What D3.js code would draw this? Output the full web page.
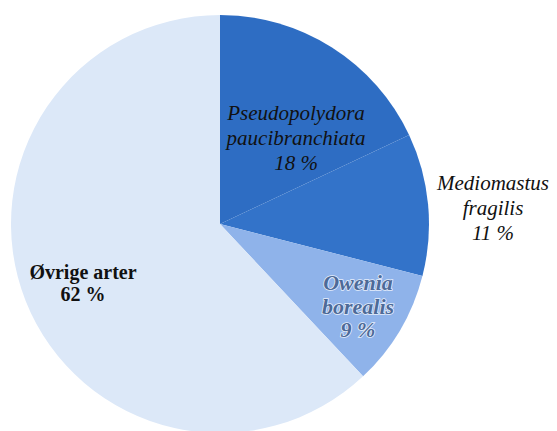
<!DOCTYPE html>
<html>
<head>
<meta charset="utf-8">
<script src="https://cdn.jsdelivr.net/npm/d3@7/dist/d3.min.js"></script>
<style>
  html, body { margin: 0; padding: 0; background: #ffffff; }
  svg { display: block; }
  .lbl { font-family: "Liberation Serif", Tinos, "Times New Roman", Times, serif; }
</style>
</head>
<body>
<svg id="chart" width="557" height="431"></svg>
<script>
// Share of individuals per species (%)
const species = ["Pseudopolydora paucibranchiata", "Mediomastus fragilis", "Owenia borealis", "Øvrige arter"];
const shares = [18, 11, 9, 62];
const labelLines = [
  ["Pseudopolydora", "paucibranchiata", "18 %"],
  ["Mediomastus", "fragilis", "11 %"],
  ["Owenia", "borealis", "9 %"],
  ["Øvrige arter", "62 %"]
];

const colors = ["#2e6dc3", "#3373c9", "#8fb3ea", "#dce8f8"];

const svg = d3.select("#chart");
const cx = 220, cy = 224, radius = 209;

const g = svg.append("g").attr("transform", `translate(${cx},${cy})`);

const pie = d3.pie().sort(null).value(d => d.value);
const arcs = pie(species.map((s, i) => ({ name: s, value: shares[i], i })));
const arc = d3.arc().innerRadius(0).outerRadius(radius);

g.selectAll("path.slice")
  .data(arcs)
  .join("path")
  .attr("class", "slice")
  .attr("d", arc)
  .attr("fill", d => colors[d.data.i]);

// Label placement relative to the pie centre
const labelStyle = [
  { dx: 76, dy: -86, size: 21, italic: true, bold: false, fill: "#111", lh: 25 },
  { dx: 273, dy: -16, size: 21, italic: true, bold: false, fill: "#111", lh: 25 },
  { dx: 138, dy: 82, size: 22, italic: true, bold: true, fill: "#4d6a98", lh: 23.5, halo: true },
  { dx: -137, dy: 59, size: 20, italic: false, bold: true, fill: "#111", lh: 22 }
];

arcs.forEach(d => {
  const i = d.data.i;
  const st = labelStyle[i];
  const lines = labelLines[i];
  const t = g.append("text")
    .attr("class", "lbl")
    .attr("text-anchor", "middle")
    .style("font-size", st.size + "px")
    .style("font-style", st.italic ? "italic" : "normal")
    .style("font-weight", st.bold ? "bold" : "normal")
    .attr("fill", st.fill);
  if (st.halo) {
    t.attr("stroke", "#e6eefb").attr("stroke-width", 1.6).attr("paint-order", "stroke");
  }
  const startY = st.dy - (lines.length - 1) * st.lh / 2;
  lines.forEach((ln, k) => {
    t.append("tspan")
      .attr("x", st.dx)
      .attr("y", startY + k * st.lh)
      .attr("dy", "0.35em")
      .text(ln);
  });
});
</script>
</body>
</html>
